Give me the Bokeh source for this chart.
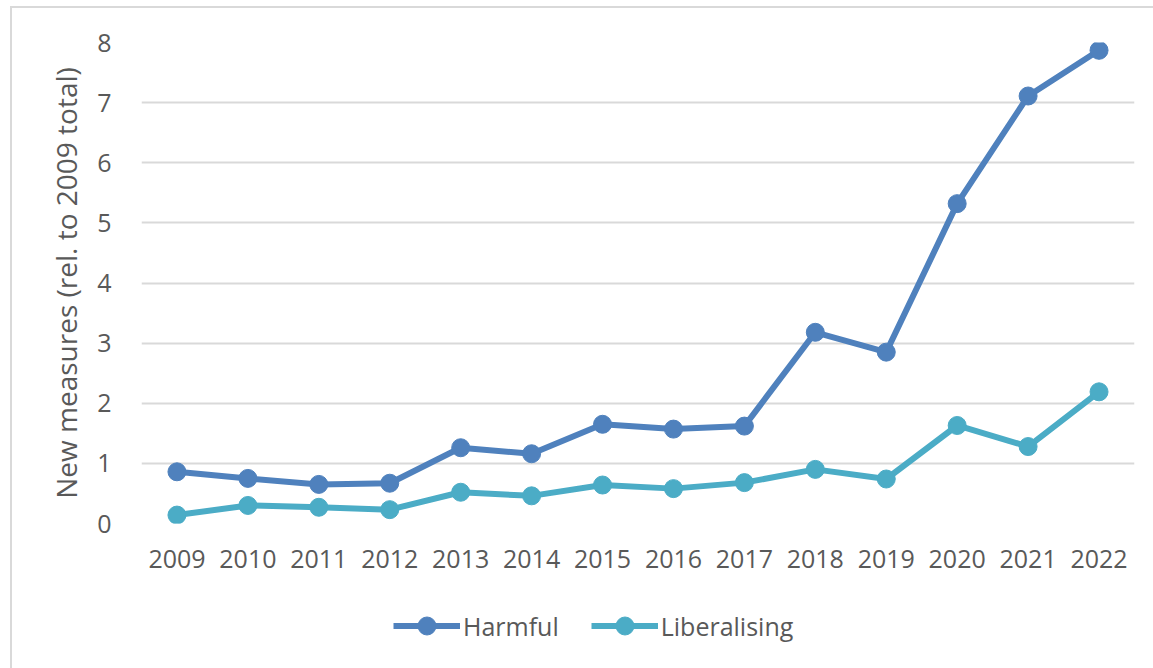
from bokeh.plotting import figure
from bokeh.layouts import column
from bokeh.models import Legend, LegendItem, SingleIntervalTicker, FactorRange, Range1d
from bokeh.embed import file_html
from bokeh.resources import INLINE

years = ["2009", "2010", "2011", "2012", "2013", "2014", "2015",
         "2016", "2017", "2018", "2019", "2020", "2021", "2022"]
harmful = [0.86, 0.75, 0.65, 0.67, 1.26, 1.16, 1.65,
           1.57, 1.62, 3.18, 2.85, 5.32, 7.11, 7.87]
liberalising = [0.14, 0.30, 0.27, 0.23, 0.52, 0.46, 0.64,
                0.58, 0.68, 0.90, 0.74, 1.63, 1.28, 2.19]
series_names = ["Harmful", "Liberalising"]

FONT = "Open Sans"
TEXT = "#595959"
GRID = "#D9D9D9"
C_HARM = "#4F81BD"
C_LIB = "#4BACC6"


def add_series(fig, ys, color):
    line = fig.line(years, ys, line_color=color, line_width=6)
    dots = fig.scatter(years, ys, size=18, fill_color=color, line_color=color)
    return [line, dots]


# ---- main chart ----
p = figure(
    x_range=FactorRange(*years, range_padding=0),
    y_range=Range1d(0, 8),
    width=1141, height=582,
    output_backend="svg", toolbar_location=None,
    min_border_left=129, min_border_right=19,
    min_border_top=34, min_border_bottom=67,
)
p.outline_line_color = None
p.background_fill_color = "white"
p.border_fill_color = "white"

p.yaxis.ticker = SingleIntervalTicker(interval=1)
for ax in (p.xaxis[0], p.yaxis[0]):
    ax.axis_line_color = None
    ax.major_tick_line_color = None
    ax.minor_tick_line_color = None
    ax.major_label_text_font = FONT
    ax.major_label_text_font_size = "25px"
    ax.major_label_text_color = TEXT
p.yaxis.major_label_standoff = 24
p.xaxis.major_label_standoff = 20
p.yaxis.axis_label = "New measures (rel. to 2009 total)"
p.yaxis.axis_label_text_font = FONT
p.yaxis.axis_label_text_font_size = "28px"
p.yaxis.axis_label_text_font_style = "normal"
p.yaxis.axis_label_text_color = TEXT
p.yaxis.axis_label_standoff = 9

p.xgrid.grid_line_color = None
p.ygrid.grid_line_color = GRID
p.ygrid.grid_line_width = 2

add_series(p, harmful, C_HARM)
add_series(p, liberalising, C_LIB)

# ---- legend strip below the chart (frame aligned with the chart's) ----
# same series, but its y window lies far above the data, so only the
# legend keys show
lg = figure(
    x_range=FactorRange(*years, range_padding=0),
    y_range=Range1d(100, 101),
    width=1141, height=78,
    output_backend="svg", toolbar_location=None,
    min_border_left=129, min_border_right=19,
    min_border_top=0, min_border_bottom=0,
)
lg.axis.visible = False
lg.grid.visible = False
lg.outline_line_color = None
lg.border_fill_color = "white"

keys_h = add_series(lg, harmful, C_HARM)
keys_l = add_series(lg, liberalising, C_LIB)

# legend markers are drawn at 0.4 x glyph height, so a 45px key gives ~18px dots
legend = Legend(
    items=[LegendItem(label=series_names[0], renderers=keys_h),
           LegendItem(label=series_names[1], renderers=keys_l)],
    orientation="horizontal",
    location=(252, 20),
    glyph_width=67, glyph_height=45,
    label_standoff=3, spacing=32,
    padding=0, margin=0,
    border_line_color=None, background_fill_alpha=0,
    label_text_font=FONT, label_text_font_size="25px", label_text_color=TEXT,
)
lg.add_layout(legend, "center")

# chart area: inset 10px left / 6px top, light border on left and top
layout = column(p, lg, spacing=0, margin=(6, 0, 0, 10))
layout.styles = {"border-left": "2px solid #D9D9D9", "border-top": "2px solid #D9D9D9"}

open("out.html", "w").write(file_html(layout, INLINE))
